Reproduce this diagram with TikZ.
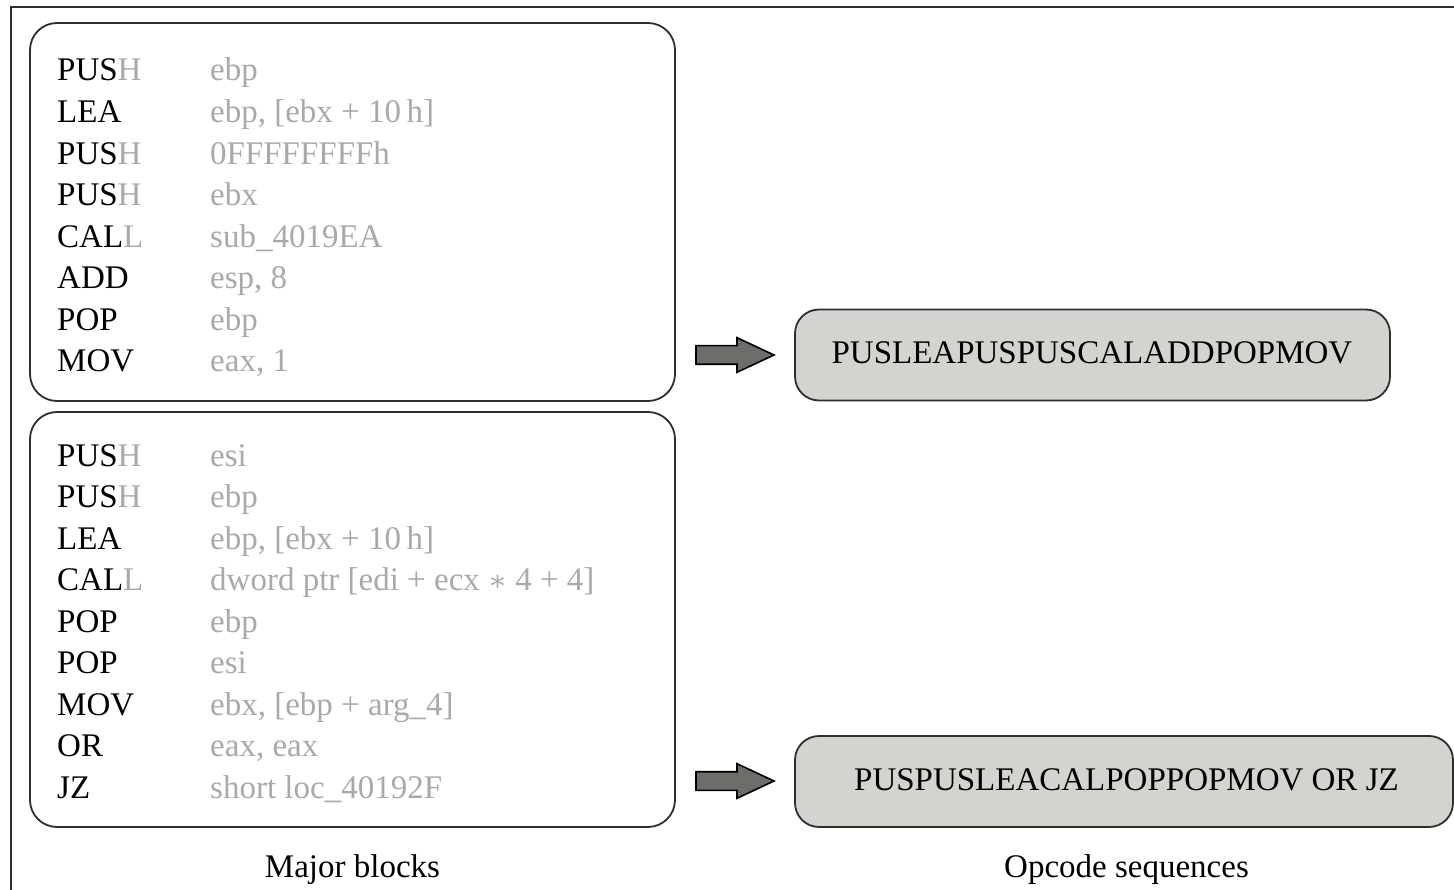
\documentclass[tikz,border=0pt]{standalone}
\usepackage{fontspec}
\setmainfont{Liberation Serif}
\newfontfamily\djvserif{DejaVu Serif}
\definecolor{lineC}{HTML}{2E2E2E}
\definecolor{opgray}{HTML}{A9A9A9}
\definecolor{seqfill}{HTML}{D3D3CF}
\definecolor{arrfill}{HTML}{6B6E69}
\tikzset{
  frameline/.style={draw=lineC, line width=2pt},
  blk/.style={draw=lineC, line width=1.8pt, rounded corners=27pt, inner sep=0pt},
  seqbox/.style={draw=lineC, line width=1.8pt, fill=seqfill, rounded corners=24pt, inner sep=0pt},
  mnem/.style={anchor=base west, inner sep=0pt, font=\fontsize{33}{40}\selectfont, text=black},
  oper/.style={anchor=base west, inner sep=0pt, font=\fontsize{33}{40}\selectfont, text=opgray},
  lbl/.style={anchor=base, inner sep=0pt, font=\fontsize{33}{40}\selectfont, text=black},
  blockarr/.pic={\draw[draw=black, line width=1.6pt, fill=arrfill, line join=miter]
    (0,-9.3) -- (41,-9.3) -- (41,-17.3) -- (78,0) -- (41,17.3) -- (41,9.3) -- (0,9.3) -- cycle;}
}
\newcommand{\gH}{{\color{opgray}H}}
\newcommand{\gL}{{\color{opgray}L}}
\newcommand{\astop}{{\djvserif\fontsize{28}{40}\selectfont ∗}}
\begin{document}
\begin{tikzpicture}[x=1pt,y=-1pt]
\useasboundingbox (0,0) rectangle (1454,890);
% outer frame (right and bottom sides lie outside the picture)
\coordinate (fTL) at (10.5,7);
\coordinate (fTR) at (1470,7);
\coordinate (fBL) at (10.5,900);
\draw[frameline] (fTR) -- (fTL) -- (fBL);

% block boxes
\node[blk, minimum width=645pt, minimum height=378pt] (b1) at (352.5,212) {};
\node[blk, minimum width=645pt, minimum height=415pt] (b2) at (352.5,619.5) {};

% opcode sequence boxes
\node[seqbox, minimum width=595pt, minimum height=91pt] (s1) at (1092.5,355) {};
\node[seqbox, minimum width=658pt, minimum height=91pt] (s2) at (1124,781.5) {};
\node[lbl] (s1t) at (1092,364) {PUSLEAPUSPUSCALADDPOPMOV};
\node[lbl] (s2t) at (1126.5,790) {PUSPUSLEACALPOPPOPMOV OR JZ};

% block 1
\node[mnem] (m11) at (57,81) {PUS\gH};
\node[mnem] (m12) at (57,122.6) {LEA};
\node[mnem] (m13) at (57,164.1) {PUS\gH};
\node[mnem] (m14) at (57,205.7) {PUS\gH};
\node[mnem] (m15) at (57,247.3) {CAL\gL};
\node[mnem] (m16) at (57,288.9) {ADD};
\node[mnem] (m17) at (57,330.4) {POP};
\node[mnem] (m18) at (57,372) {MOV};
\node[oper] (o11) at (210,81) {ebp};
\node[oper] (o12) at (210,122.6) {ebp, [ebx + 10\,h]};
\node[oper] (o13) at (210,164.1) {0FFFFFFFFh};
\node[oper] (o14) at (210,205.7) {ebx};
\node[oper] (o15) at (210,247.3) {sub\_4019EA};
\node[oper] (o16) at (210,288.9) {esp, 8};
\node[oper] (o17) at (210,330.4) {ebp};
\node[oper] (o18) at (210,372) {eax, 1};

% block 2
\node[mnem] (m21) at (57,466) {PUS\gH};
\node[mnem] (m22) at (57,507.5) {PUS\gH};
\node[mnem] (m23) at (57,549) {LEA};
\node[mnem] (m24) at (57,590.5) {CAL\gL};
\node[mnem] (m25) at (57,632) {POP};
\node[mnem] (m26) at (57,673.5) {POP};
\node[mnem] (m27) at (57,715) {MOV};
\node[mnem] (m28) at (57,756.5) {OR};
\node[mnem] (m29) at (57,798) {JZ};
\node[oper] (o21) at (210,466) {esi};
\node[oper] (o22) at (210,507.5) {ebp};
\node[oper] (o23) at (210,549) {ebp, [ebx + 10\,h]};
\node[oper] (o24) at (210,590.5) {dword ptr [edi + ecx \astop{} 4 + 4]};
\node[oper] (o25) at (210,632) {ebp};
\node[oper] (o26) at (210,673.5) {esi};
\node[oper] (o27) at (210,715) {ebx, [ebp + arg\_4]};
\node[oper] (o28) at (210,756.5) {eax, eax};
\node[oper] (o29) at (210,798) {short loc\_40192F};

% block arrows
\pic at (696,355) {blockarr};
\pic at (696,781) {blockarr};

% captions
\node[lbl] (cap1) at (352.5,877) {Major blocks};
\node[lbl] (cap2) at (1126.5,877) {Opcode sequences};
\end{tikzpicture}
\end{document}
